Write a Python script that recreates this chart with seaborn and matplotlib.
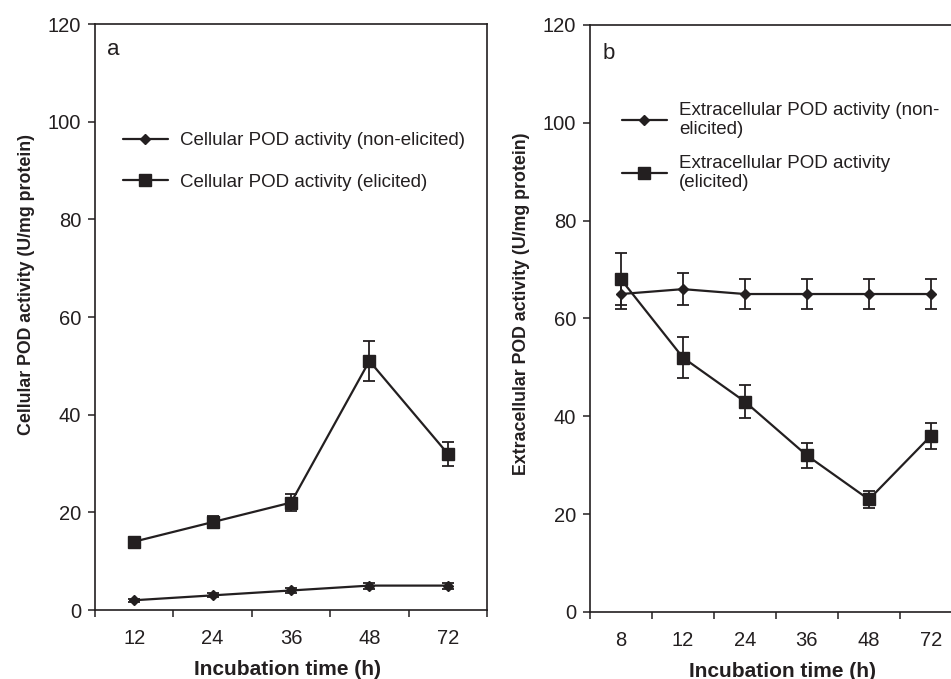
import matplotlib
matplotlib.use("Agg")
import matplotlib.pyplot as plt
from matplotlib.ticker import FixedLocator, NullFormatter, FixedFormatter
import numpy as np
import seaborn as sns

# Panel a: cellular POD activity
time_a = ["12", "24", "36", "48", "72"]
cell_non = [2, 3, 4, 5, 5]
cell_non_err = [0.3, 0.4, 0.5, 0.6, 0.6]
cell_eli = [14, 18, 22, 51, 32]
cell_eli_err = [0.8, 1.2, 1.8, 4.0, 2.5]

# Panel b: extracellular POD activity
time_b = ["8", "12", "24", "36", "48", "72"]
extra_non = [65, 66, 65, 65, 65, 65]
extra_non_err = [3.0, 3.2, 3.0, 3.0, 3.0, 3.0]
extra_eli = [68, 52, 43, 32, 23, 36]
extra_eli_err = [5.3, 4.2, 3.4, 2.6, 1.7, 2.7]

ink = "#231f20"

sns.set_style("ticks")
plt.rcParams["font.family"] = ["Liberation Sans", "DejaVu Sans"]
plt.rcParams["text.color"] = ink
plt.rcParams["axes.labelcolor"] = ink
plt.rcParams["xtick.color"] = ink
plt.rcParams["ytick.color"] = ink


def draw_series(ax, times, vals, errs, marker, ms, label):
    sns.pointplot(x=times, y=vals, order=times, color=ink, marker=marker,
                  markersize=ms, markeredgewidth=1, linewidth=1.6,
                  errorbar=None, label=label, ax=ax)
    ax.errorbar(np.arange(len(times)), vals, yerr=errs, fmt="none",
                ecolor=ink, elinewidth=1.3, capsize=4, capthick=1.3)


def style_axes(ax, times, ylabel):
    n = len(times)
    ax.set_xlim(-0.5, n - 0.5)
    ax.xaxis.set_major_locator(FixedLocator(np.arange(n + 1) - 0.5))
    ax.xaxis.set_major_formatter(NullFormatter())
    ax.xaxis.set_minor_locator(FixedLocator(np.arange(n)))
    ax.xaxis.set_minor_formatter(FixedFormatter(times))
    ax.tick_params(axis="x", which="minor", length=0, pad=13.5, labelsize=14.5)
    ax.tick_params(axis="x", which="major", length=5, width=1.1, direction="out")
    ax.set_ylim(0, 120)
    ax.set_yticks(range(0, 121, 20))
    ax.tick_params(axis="y", length=5, width=1.1, pad=5, labelsize=14.5, direction="out")
    for s in ax.spines.values():
        s.set_visible(True)
        s.set_linewidth(1.2)
        s.set_color(ink)
    ax.set_xlabel("Incubation time (h)", fontsize=15, fontweight="bold")
    ax.set_ylabel(ylabel, fontsize=12.8, fontweight="bold")


fig = plt.figure(figsize=(9.51, 6.79), dpi=100)
ax1 = fig.add_axes([0.0999, 0.1016, 0.4122, 0.863])
ax2 = fig.add_axes([0.6204, 0.0987, 0.391, 0.8645])

# panel a
draw_series(ax1, time_a, cell_non, cell_non_err, "D", 5.5, "Cellular POD activity (non-elicited)")
draw_series(ax1, time_a, cell_eli, cell_eli_err, "s", 8, "Cellular POD activity (elicited)")
style_axes(ax1, time_a, "Cellular POD activity (U/mg protein)")
ax1.yaxis.set_label_coords(-0.153, 0.556)
ax1.xaxis.set_label_coords(0.49, -0.085)
ax1.text(0.03, 0.975, "a", transform=ax1.transAxes, fontsize=16, va="top", ha="left")
h, l = ax1.get_legend_handles_labels()
ax1.legend(h, l, loc="upper left", bbox_to_anchor=(0.071, 0.8157), frameon=False,
           fontsize=13.5, handlelength=2.4, handletextpad=0.64, labelspacing=1.32,
           borderpad=0, borderaxespad=0)

# panel b
draw_series(ax2, time_b, extra_non, extra_non_err, "D", 5.5, "Extracellular POD activity (non-\nelicited)")
draw_series(ax2, time_b, extra_eli, extra_eli_err, "s", 8, "Extracellular POD activity\n(elicited)")
style_axes(ax2, time_b, "Extracellular POD activity (U/mg protein)")
ax2.yaxis.set_label_coords(-0.161, 0.525)
ax2.xaxis.set_label_coords(0.519, -0.085)
ax2.text(0.035, 0.97, "b", transform=ax2.transAxes, fontsize=16, va="top", ha="left")
h, l = ax2.get_legend_handles_labels()
ax2.legend(h, l, loc="upper left", bbox_to_anchor=(0.086, 0.869), frameon=False,
           fontsize=13.5, handlelength=2.4, handletextpad=0.64, labelspacing=0.87,
           borderpad=0, borderaxespad=0)

fig.savefig("out.png", dpi=100)
